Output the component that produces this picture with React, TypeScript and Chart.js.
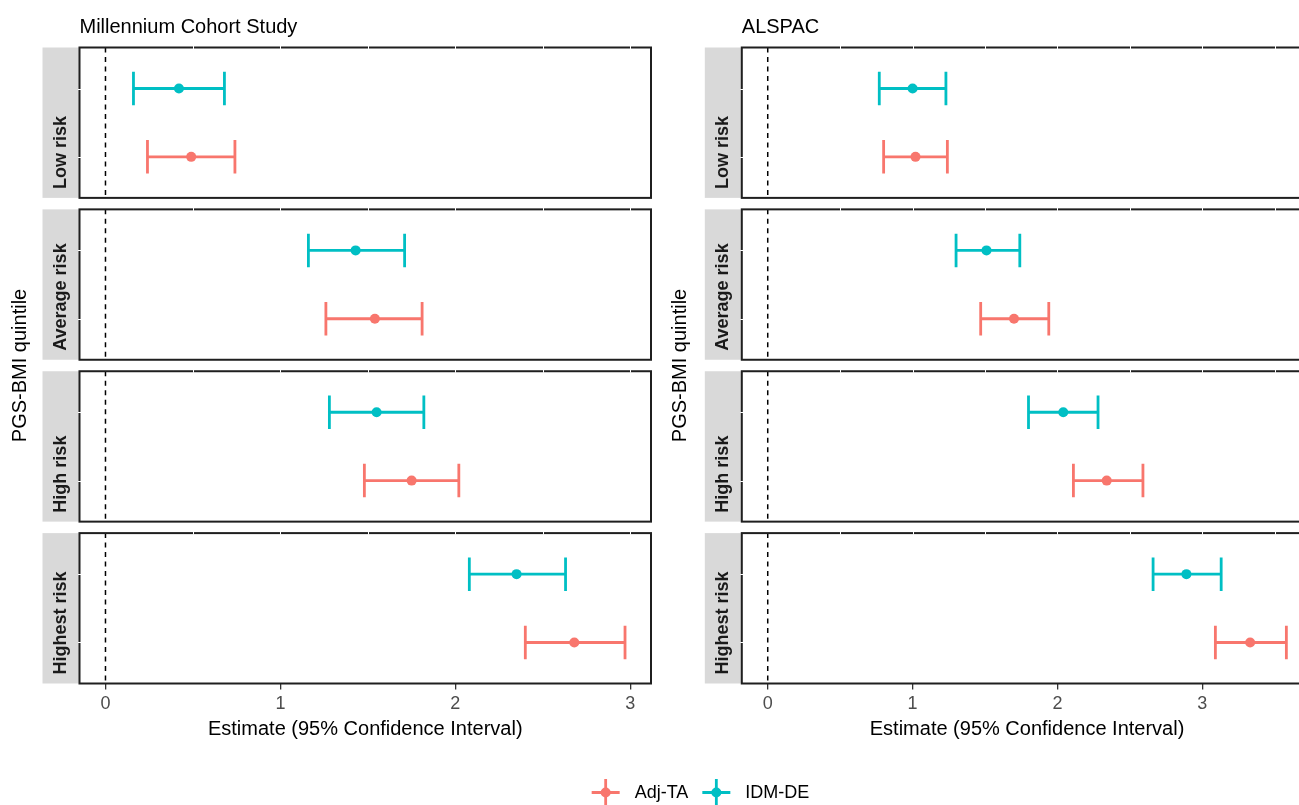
import React, { useEffect, useRef } from "react";
import { Chart, registerables } from "chart.js";

Chart.register(...registerables);

// ---------- data ----------
const panels = ["Low risk", "Average risk", "High risk", "Highest risk"];
const seriesNames = ["Adj-TA", "IDM-DE"];
const seriesColors = ["#F8766D", "#00BFC4"];
const xTickValues = [0, 1, 2, 3];
const studyTitles = ["Millennium Cohort Study", "ALSPAC"];
const yAxisTitle = "PGS-BMI quintile";
const xAxisTitle = "Estimate (95% Confidence Interval)";

// Millennium Cohort Study
const mcsAdjEst = [0.49, 1.54, 1.75, 2.68];
const mcsAdjLow = [0.24, 1.26, 1.48, 2.4];
const mcsAdjHigh = [0.74, 1.81, 2.02, 2.97];
const mcsIdmEst = [0.42, 1.43, 1.55, 2.35];
const mcsIdmLow = [0.16, 1.16, 1.28, 2.08];
const mcsIdmHigh = [0.68, 1.71, 1.82, 2.63];

// ALSPAC
const alsAdjEst = [1.02, 1.7, 2.34, 3.33];
const alsAdjLow = [0.8, 1.47, 2.11, 3.09];
const alsAdjHigh = [1.24, 1.94, 2.59, 3.58];
const alsIdmEst = [1.0, 1.51, 2.04, 2.89];
const alsIdmLow = [0.77, 1.3, 1.8, 2.66];
const alsIdmHigh = [1.23, 1.74, 2.28, 3.13];

// ---------- layout / style ----------
const FONT = '"Liberation Sans", Arial, Helvetica, sans-serif';
const PANEL_SPAN = 2.2;
const PANEL_GAP = 0.168;
const ROW_POS = [1.6, 0.6];
const CAP_HALF = 0.245;
const STRIP_W = 37;
const BAR_WIDTH = 2.8;
const POINT_R = 5;

const rowValue = (p: number, s: number) => p * (PANEL_SPAN + PANEL_GAP) + ROW_POS[s];

const facetPlugin = {
  id: "facets",
  beforeDatasetsDraw(chart: any) {
    const { ctx, chartArea: a, scales } = chart;
    const x = scales.x;
    const y = scales.y;
    ctx.save();
    panels.forEach((name, p) => {
      const t = y.getPixelForValue(p * (PANEL_SPAN + PANEL_GAP));
      const b = y.getPixelForValue(p * (PANEL_SPAN + PANEL_GAP) + PANEL_SPAN);
      ctx.fillStyle = "#D9D9D9";
      ctx.fillRect(a.left - STRIP_W, t, STRIP_W, b - t);
      ctx.save();
      ctx.translate(a.left - STRIP_W / 2, b - 9);
      ctx.rotate(-Math.PI / 2);
      ctx.font = `bold 18px ${FONT}`;
      ctx.fillStyle = "#1A1A1A";
      ctx.textAlign = "left";
      ctx.textBaseline = "middle";
      ctx.fillText(name, 0, 0);
      ctx.restore();
      const x0 = x.getPixelForValue(0);
      ctx.strokeStyle = "#000";
      ctx.lineWidth = 1.5;
      ctx.setLineDash([5, 4.5]);
      ctx.beginPath();
      ctx.moveTo(x0, t);
      ctx.lineTo(x0, b);
      ctx.stroke();
      ctx.setLineDash([]);
    });
    chart.data.datasets.forEach((ds: any) => {
      ctx.strokeStyle = ds.borderColor;
      ctx.lineWidth = BAR_WIDTH;
      ds.data.forEach((pt: any, p: number) => {
        const yp = y.getPixelForValue(pt.y);
        const cap = Math.abs(y.getPixelForValue(pt.y + CAP_HALF) - yp);
        const xl = x.getPixelForValue(ds.lowValues[p]);
        const xh = x.getPixelForValue(ds.highValues[p]);
        ctx.beginPath();
        ctx.moveTo(xl, yp);
        ctx.lineTo(xh, yp);
        ctx.moveTo(xl, yp - cap);
        ctx.lineTo(xl, yp + cap);
        ctx.moveTo(xh, yp - cap);
        ctx.lineTo(xh, yp + cap);
        ctx.stroke();
      });
    });
    ctx.restore();
  },
  afterDraw(chart: any, _args: any, opts: any) {
    const { ctx, chartArea: a, scales } = chart;
    const x = scales.x;
    const y = scales.y;
    ctx.save();
    panels.forEach((_name, p) => {
      const t = y.getPixelForValue(p * (PANEL_SPAN + PANEL_GAP));
      const b = y.getPixelForValue(p * (PANEL_SPAN + PANEL_GAP) + PANEL_SPAN);
      ctx.strokeStyle = "#1F1F1F";
      ctx.lineWidth = 2;
      ctx.strokeRect(a.left, t, a.right - a.left, b - t);
      // faint white grid-line marks crossing the border
      ctx.strokeStyle = "#FFFFFF";
      ctx.lineWidth = 1;
      for (let v = 0.5; v < x.max; v += 0.5) {
        const px = Math.round(x.getPixelForValue(v)) + 0.5;
        ctx.beginPath();
        ctx.moveTo(px, t - 1.5);
        ctx.lineTo(px, t + 1.5);
        ctx.stroke();
      }
      ROW_POS.forEach((_r, s) => {
        const py = Math.round(y.getPixelForValue(rowValue(p, s))) + 0.5;
        ctx.beginPath();
        ctx.moveTo(a.left - 1.5, py);
        ctx.lineTo(a.left + 1.5, py);
        ctx.stroke();
      });
    });
    // study title
    ctx.font = `20px ${FONT}`;
    ctx.fillStyle = "#000";
    ctx.textAlign = "left";
    ctx.textBaseline = "alphabetic";
    ctx.fillText(opts.title, a.left, 33);

    if (opts.showLegend) {
      ctx.font = `18px ${FONT}`;
      const widths = seriesNames.map((n) => ctx.measureText(n).width);
      const total = widths.reduce((acc, w) => acc + 28 + 15 + w, 0) + 14 * (seriesNames.length - 1);
      let cursor = 700.5 - total / 2;
      const ly = 792.5;
      seriesNames.forEach((n, i) => {
        const kc = cursor + 14;
        ctx.strokeStyle = seriesColors[i];
        ctx.lineWidth = BAR_WIDTH;
        ctx.beginPath();
        ctx.moveTo(kc - 14, ly);
        ctx.lineTo(kc + 14, ly);
        ctx.moveTo(kc, ly - 13.5);
        ctx.lineTo(kc, ly + 13.5);
        ctx.stroke();
        ctx.fillStyle = seriesColors[i];
        ctx.beginPath();
        ctx.arc(kc, ly, POINT_R, 0, Math.PI * 2);
        ctx.fill();
        ctx.fillStyle = "#000";
        ctx.textAlign = "left";
        ctx.textBaseline = "middle";
        const tx = kc + 29;
        ctx.fillText(n, tx, ly + 0.5);
        cursor = tx + widths[i] + 14;
      });
    }
    ctx.restore();
  },
};

function makeConfig(o: {
  title: string;
  est: number[][];
  low: number[][];
  high: number[][];
  padLeft: number;
  yAxisWidth: number;
  padRight: number;
  showLegend: boolean;
}): any {
  const allLow = o.low.flat();
  const allHigh = o.high.flat();
  const lo = Math.min(0, ...allLow);
  const hi = Math.max(0, ...allHigh);
  const pad = 0.05 * (hi - lo);
  const datasets = seriesNames.map((name, s) => ({
    label: name,
    data: panels.map((_p, p) => ({ x: o.est[s][p], y: rowValue(p, s) })),
    lowValues: o.low[s],
    highValues: o.high[s],
    backgroundColor: seriesColors[s],
    borderColor: seriesColors[s],
    pointRadius: POINT_R,
    pointHoverRadius: POINT_R,
    pointBorderWidth: 0,
    showLine: false,
  }));
  return {
    type: "scatter",
    data: { datasets },
    plugins: [facetPlugin],
    options: {
      animation: false,
      responsive: false,
      events: [],
      layout: { padding: { left: o.padLeft, top: 47.5, right: o.padRight, bottom: 61.5 } },
      plugins: {
        legend: { display: false },
        tooltip: { enabled: false },
        title: { display: false },
        facets: { title: o.title, showLegend: o.showLegend },
      },
      scales: {
        x: {
          type: "linear",
          position: "bottom",
          min: lo - pad,
          max: hi + pad,
          afterBuildTicks: (scale: any) => {
            scale.ticks = xTickValues.map((v) => ({ value: v }));
          },
          afterFit: (scale: any) => {
            scale.height = 60;
          },
          grid: {
            display: true,
            drawOnChartArea: false,
            drawTicks: true,
            tickLength: 6,
            color: "#333333",
            lineWidth: 1.3,
          },
          border: { display: false },
          ticks: {
            font: { size: 18, family: FONT },
            color: "#4D4D4D",
            padding: 4,
            maxRotation: 0,
            autoSkip: false,
            callback: (v: any) => String(v),
          },
          title: {
            display: true,
            text: xAxisTitle,
            font: { size: 20, family: FONT },
            color: "#000",
            padding: { top: 0, bottom: 2.5 },
          },
        },
        y: {
          type: "linear",
          position: "left",
          reverse: true,
          min: 0,
          max: panels.length * PANEL_SPAN + (panels.length - 1) * PANEL_GAP,
          afterFit: (scale: any) => {
            scale.width = o.yAxisWidth;
          },
          ticks: { display: false },
          grid: { display: false },
          border: { display: false },
          title: {
            display: true,
            text: yAxisTitle,
            font: { size: 20, family: FONT },
            color: "#000",
            padding: { top: 8, bottom: 0 },
          },
        },
      },
    },
  };
}

export default function App() {
  const leftRef = useRef<HTMLCanvasElement | null>(null);
  const rightRef = useRef<HTMLCanvasElement | null>(null);

  useEffect(() => {
    Chart.defaults.font.family = FONT;
    const left = new Chart(
      leftRef.current as HTMLCanvasElement,
      makeConfig({
        title: studyTitles[0],
        est: [mcsAdjEst, mcsIdmEst],
        low: [mcsAdjLow, mcsIdmLow],
        high: [mcsAdjHigh, mcsIdmHigh],
        padLeft: 0,
        yAxisWidth: 79.5,
        padRight: 1299 - 651,
        showLegend: false,
      })
    );
    const right = new Chart(
      rightRef.current as HTMLCanvasElement,
      makeConfig({
        title: studyTitles[1],
        est: [alsAdjEst, alsIdmEst],
        low: [alsAdjLow, alsIdmLow],
        high: [alsAdjHigh, alsIdmHigh],
        padLeft: 660,
        yAxisWidth: 81.8,
        padRight: 1330 - 1312.3,
        showLegend: true,
      })
    );
    return () => {
      left.destroy();
      right.destroy();
    };
  }, []);

  return (
    <div
      style={{
        position: "fixed",
        left: 0,
        top: 0,
        width: 1299,
        height: 805,
        overflow: "hidden",
        background: "#FFFFFF",
      }}
    >
      <canvas
        ref={leftRef}
        width={1299}
        height={805}
        style={{ position: "absolute", left: 0, top: 0, width: 1299, height: 805 }}
      />
      <canvas
        ref={rightRef}
        width={1330}
        height={805}
        style={{ position: "absolute", left: 0, top: 0, width: 1330, height: 805 }}
      />
    </div>
  );
}
